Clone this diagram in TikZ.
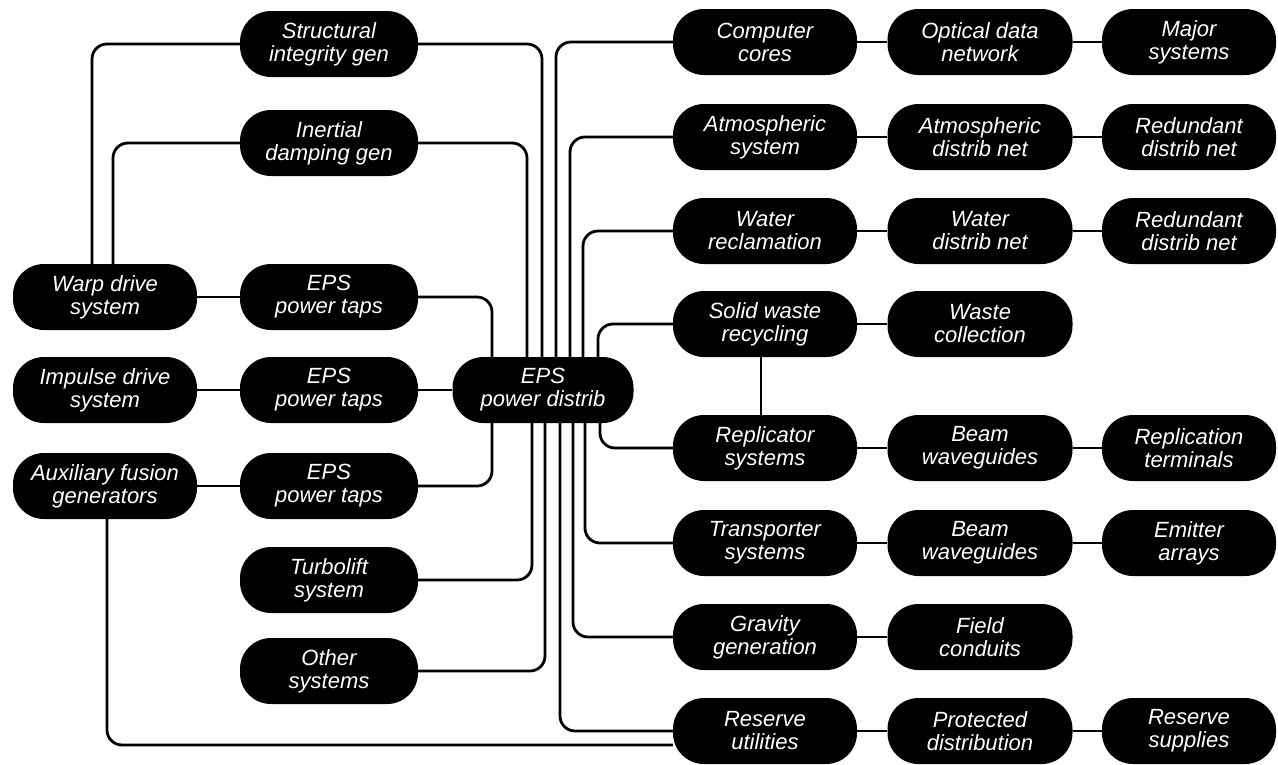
\documentclass[tikz,border=0pt]{standalone}
\usepackage{fontspec}
\setmainfont{Liberation Sans}
\usetikzlibrary{backgrounds}
\begin{document}
\begin{tikzpicture}[x=1pt,y=-1pt,
  pill/.style={fill=black,rounded corners=31pt,minimum width=182pt,minimum height=66pt,
    inner sep=0pt,text=white,align=center,font=\itshape\fontsize{22}{23}\selectfont},
  colA/.style={pill,minimum width=184pt},
  colB/.style={pill,minimum width=178pt},
  colC/.style={pill,minimum width=184pt},
  colD/.style={pill,minimum width=185pt},
  colE/.style={pill,minimum width=174pt},
  link/.style={line width=2.8pt,rounded corners=15pt}]
\useasboundingbox (0,0) rectangle (1278,764);
% column A
\node[colA] (warp) at (105,297) {Warp drive\\system};
\node[colA] (impulse) at (105,390) {Impulse drive\\system};
\node[colA] (aux) at (105,486) {Auxiliary fusion\\generators};
% column B
\node[colB] (struct) at (329,44) {Structural\\integrity gen};
\node[colB] (inertial) at (329,143) {Inertial\\damping gen};
\node[colB] (taps1) at (329,297) {EPS\\power taps};
\node[colB] (taps2) at (329,390) {EPS\\power taps};
\node[colB] (taps3) at (329,486) {EPS\\power taps};
\node[colB] (turbo) at (329,580) {Turbolift\\system};
\node[colB] (other) at (329,671) {Other\\systems};
% centre
\node[pill,minimum width=181pt] (eps) at (543,390) {EPS\\power distrib};
% column C
\node[colC] (comp) at (765,42) {Computer\\cores};
\node[colC] (atmos) at (765,137) {Atmospheric\\system};
\node[colC] (water) at (765,231) {Water\\reclamation};
\node[colC] (solid) at (765,324) {Solid waste\\recycling};
\node[colC] (repl) at (765,448) {Replicator\\systems};
\node[colC] (trans) at (765,543) {Transporter\\systems};
\node[colC] (grav) at (765,637) {Gravity\\generation};
\node[colC] (reserve) at (765,731) {Reserve\\utilities};
% column D
\node[colD] (optical) at (980,42) {Optical data\\network};
\node[colD] (atmosnet) at (980,137) {Atmospheric\\distrib net};
\node[colD] (waternet) at (980,231) {Water\\distrib net};
\node[colD] (wastecol) at (980,324) {Waste\\collection};
\node[colD] (beam1) at (980,448) {Beam\\waveguides};
\node[colD] (beam2) at (980,543) {Beam\\waveguides};
\node[colD] (field) at (980,637) {Field\\conduits};
\node[colD] (protected) at (980,731) {Protected\\distribution};
% column E
\node[colE] (major) at (1189,42) {Major\\systems};
\node[colE] (redund1) at (1189,137) {Redundant\\distrib net};
\node[colE] (redund2) at (1189,231) {Redundant\\distrib net};
\node[colE] (repterm) at (1189,448) {Replication\\terminals};
\node[colE] (emitter) at (1189,543) {Emitter\\arrays};
\node[colE] (supplies) at (1189,731) {Reserve\\supplies};

\begin{pgfonlayer}{background}
% left side
\draw[link] (warp) -- (taps1);
\draw[link] (impulse) -- (taps2) -- (eps);
\draw[link] (aux) -- (taps3);
\draw[link] (struct.west) -| ([xshift=-13pt]warp.north);
\draw[link] (inertial.west) -| ([xshift=8pt]warp.north);
\draw[link] (struct.east) -| ([xshift=-1pt]eps.north);
\draw[link] (inertial.east) -| ([xshift=-16pt]eps.north);
\draw[link] (taps1.east) -| ([xshift=-51pt]eps.north);
\draw[link] (taps3.east) -| ([xshift=-51pt]eps.south);
\draw[link] (turbo.east) -| ([xshift=-11pt]eps.south);
\draw[link] (other.east) -| ([xshift=2pt]eps.south);
% right side feeds
\draw[link] (comp.west) -| ([xshift=13pt]eps.north);
\draw[link] (atmos.west) -| ([xshift=27pt]eps.north);
\draw[link] (water.west) -| ([xshift=40pt]eps.north);
\draw[link] (solid.west) -| ([xshift=55pt]eps.north);
\draw[link] (repl.west) -| ([xshift=57pt]eps.south);
\draw[link] (trans.west) -| ([xshift=42pt]eps.south);
\draw[link] (grav.west) -| ([xshift=30pt]eps.south);
\draw[link] (reserve.west) -| ([xshift=17pt]eps.south);
\draw[link] ([xshift=2pt]aux.south) |- ([yshift=-14pt]reserve.west);
\draw[link] ([xshift=-4pt]solid.south) -- ([xshift=-4pt]repl.north);
% rows
\draw[link] (comp) -- (optical) -- (major);
\draw[link] (atmos) -- (atmosnet) -- (redund1);
\draw[link] (water) -- (waternet) -- (redund2);
\draw[link] (solid) -- (wastecol);
\draw[link] (repl) -- (beam1) -- (repterm);
\draw[link] (trans) -- (beam2) -- (emitter);
\draw[link] (grav) -- (field);
\draw[link] (reserve) -- (protected) -- (supplies);
\end{pgfonlayer}
\end{tikzpicture}
\end{document}
